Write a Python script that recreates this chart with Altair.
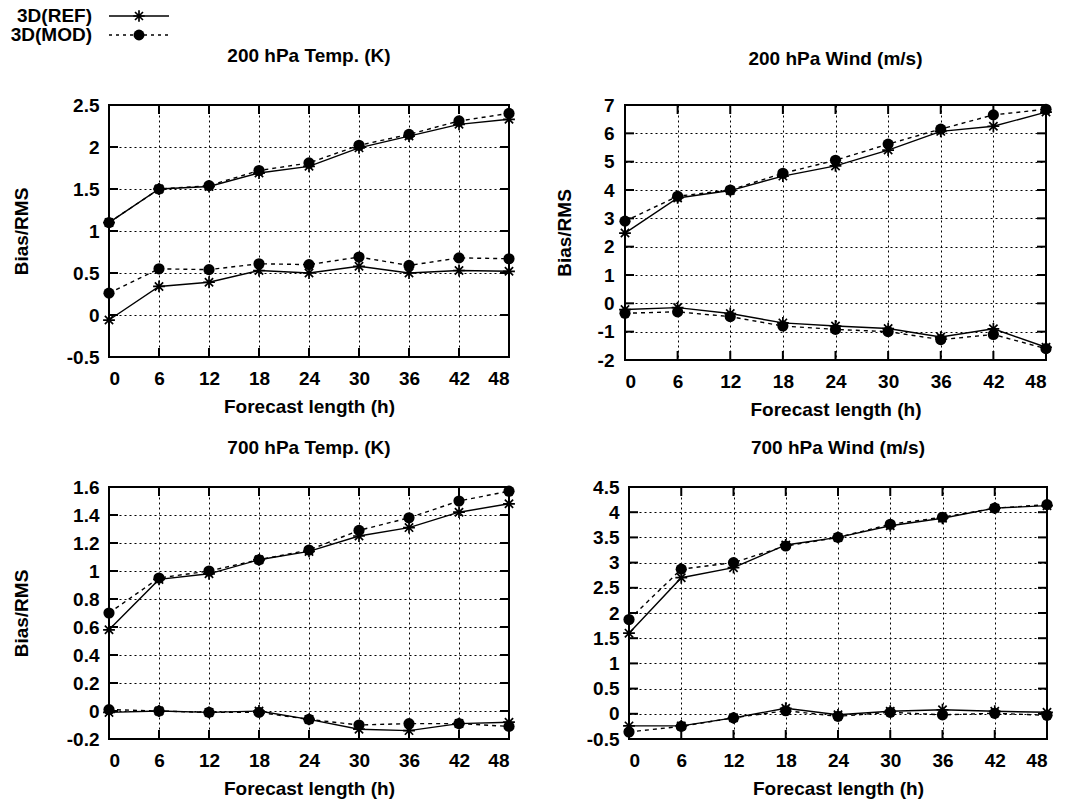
import altair as alt
import pandas as pd

hours = [0, 6, 12, 18, 24, 30, 36, 42, 48]
series_names = ["3D(REF)", "3D(MOD)"]

# 200 hPa Temp. (K)
t200_ref_rms = [1.10, 1.50, 1.53, 1.69, 1.77, 1.99, 2.13, 2.27, 2.33]
t200_mod_rms = [1.10, 1.50, 1.54, 1.72, 1.81, 2.02, 2.15, 2.31, 2.40]
t200_ref_bias = [-0.06, 0.34, 0.39, 0.53, 0.50, 0.58, 0.50, 0.53, 0.52]
t200_mod_bias = [0.26, 0.55, 0.54, 0.61, 0.60, 0.69, 0.59, 0.68, 0.67]
t200_yticks = [-0.5, 0, 0.5, 1, 1.5, 2, 2.5]

# 200 hPa Wind (m/s)
w200_ref_rms = [2.48, 3.72, 3.98, 4.49, 4.85, 5.41, 6.07, 6.25, 6.75]
w200_mod_rms = [2.90, 3.78, 4.00, 4.59, 5.05, 5.62, 6.15, 6.65, 6.85]
w200_ref_bias = [-0.22, -0.15, -0.36, -0.69, -0.80, -0.89, -1.19, -0.90, -1.55]
w200_mod_bias = [-0.35, -0.30, -0.47, -0.80, -0.92, -1.00, -1.28, -1.10, -1.60]
w200_yticks = [-2, -1, 0, 1, 2, 3, 4, 5, 6, 7]

# 700 hPa Temp. (K)
t700_ref_rms = [0.58, 0.94, 0.98, 1.08, 1.14, 1.25, 1.31, 1.42, 1.48]
t700_mod_rms = [0.70, 0.95, 1.00, 1.08, 1.15, 1.29, 1.38, 1.50, 1.57]
t700_ref_bias = [-0.01, 0.00, -0.01, 0.00, -0.06, -0.13, -0.14, -0.09, -0.08]
t700_mod_bias = [0.01, 0.00, -0.01, -0.01, -0.06, -0.10, -0.09, -0.09, -0.11]
t700_yticks = [-0.2, 0, 0.2, 0.4, 0.6, 0.8, 1, 1.2, 1.4, 1.6]

# 700 hPa Wind (m/s)
w700_ref_rms = [1.60, 2.70, 2.90, 3.35, 3.50, 3.73, 3.88, 4.08, 4.13]
w700_mod_rms = [1.87, 2.87, 3.00, 3.33, 3.50, 3.76, 3.90, 4.08, 4.15]
w700_ref_bias = [-0.24, -0.24, -0.08, 0.11, -0.02, 0.05, 0.08, 0.05, 0.03]
w700_mod_bias = [-0.36, -0.25, -0.08, 0.06, -0.05, 0.03, -0.02, 0.01, -0.03]
w700_yticks = [-0.5, 0, 0.5, 1, 1.5, 2, 2.5, 3, 3.5, 4, 4.5]

STAR = "M-1,0L1,0M0,-1L0,1M-0.7,-0.7L0.7,0.7M-0.7,0.7L0.7,-0.7"
FONT = "Liberation Sans"
FS = 19
TICK = 9


def build_df(ref_rms, mod_rms, ref_bias, mod_bias):
    rows = []
    for name, metric, vals in [
        (series_names[0], "rms", ref_rms),
        (series_names[1], "rms", mod_rms),
        (series_names[0], "bias", ref_bias),
        (series_names[1], "bias", mod_bias),
    ]:
        for h, v in zip(hours, vals):
            rows.append({"hour": h, "value": v, "series": name, "metric": metric})
    return pd.DataFrame(rows)


def panel(title, df, yticks, ytitle, w, h, title_offset, lab_pad, ytitle_pad):
    x = alt.X(
        "hour:Q",
        scale=alt.Scale(domain=[0, 48], nice=False, zero=False),
        axis=alt.Axis(values=hours, title="Forecast length (h)", labelPadding=12,
                      titlePadding=9, labelExpr="'' + datum.value"),
    )
    yaxis_kw = dict(values=yticks, labelPadding=lab_pad, labelExpr="'' + datum.value",
                    titlePadding=ytitle_pad, title=ytitle if ytitle else "")
    y = alt.Y(
        "value:Q",
        scale=alt.Scale(domain=[yticks[0], yticks[-1]], nice=False, zero=False),
        axis=alt.Axis(**yaxis_kw),
    )
    base = alt.Chart(df)
    ref = base.transform_filter(alt.datum.series == series_names[0])
    mod = base.transform_filter(alt.datum.series == series_names[1])
    ref_line = ref.mark_line(color="black", strokeWidth=1.4).encode(x=x, y=y, detail="metric:N")
    mod_line = mod.mark_line(color="black", strokeWidth=1.4, strokeDash=[4, 4]).encode(
        x=x, y=y, detail="metric:N")
    ref_pts = ref.mark_point(shape=STAR, filled=False, stroke="black", strokeWidth=1.7,
                             size=140, opacity=1).encode(x=x, y=y)
    mod_pts = mod.mark_point(shape="circle", filled=True, color="black", size=125,
                             opacity=1).encode(x=x, y=y)

    xt = alt.Chart(pd.DataFrame({"hour": hours}))
    yt = alt.Chart(pd.DataFrame({"value": yticks}))
    tick_top = xt.mark_rule(color="black", strokeWidth=2).encode(
        x=x, y=alt.value(0), y2=alt.value(TICK))
    tick_bot = xt.mark_rule(color="black", strokeWidth=2).encode(
        x=x, y=alt.value(h), y2=alt.value(h - TICK))
    tick_left = yt.mark_rule(color="black", strokeWidth=2).encode(
        y=y, x=alt.value(0), x2=alt.value(TICK))
    tick_right = yt.mark_rule(color="black", strokeWidth=2).encode(
        y=y, x=alt.value(w), x2=alt.value(w - TICK))

    return alt.layer(
        tick_top, tick_bot, tick_left, tick_right,
        mod_line, ref_line, ref_pts, mod_pts,
    ).properties(
        width=w, height=h,
        title=alt.TitleParams(title, fontSize=FS, font=FONT, fontWeight="bold",
                              color="black", offset=title_offset),
    )


p1 = panel("200 hPa Temp. (K)", build_df(t200_ref_rms, t200_mod_rms, t200_ref_bias, t200_mod_bias),
           t200_yticks, "Bias/RMS", 400, 252, 30, 10, 35)
p2 = panel("200 hPa Wind (m/s)", build_df(w200_ref_rms, w200_mod_rms, w200_ref_bias, w200_mod_bias),
           w200_yticks, "Bias/RMS", 421, 255, 27, 11, 23)
p3 = panel("700 hPa Temp. (K)", build_df(t700_ref_rms, t700_mod_rms, t700_ref_bias, t700_mod_bias),
           t700_yticks, "Bias/RMS", 400, 252, 20, 10, 35)
p4 = panel("700 hPa Wind (m/s)", build_df(w700_ref_rms, w700_mod_rms, w700_ref_bias, w700_mod_bias),
           w700_yticks, None, 418, 252, 20, 10, 10)

# legend drawn as its own small chart, aligned to the first panel's origin
leg = alt.Chart(pd.DataFrame({"series": series_names}))
leg_layers = []
for name, yy, dash, shape, filled in [
    (series_names[0], 15, [1, 0], STAR, False),
    (series_names[1], 34, [3, 4], "circle", True),
]:
    sub = leg.transform_filter(alt.datum.series == name)
    leg_layers.append(sub.mark_text(align="right", baseline="middle", font=FONT,
                                    fontWeight="bold", fontSize=FS, color="black").encode(
        x=alt.value(-17), y=alt.value(yy), text="series:N"))
    leg_layers.append(sub.mark_rule(color="black", strokeWidth=1.4, strokeDash=dash).encode(
        x=alt.value(0), x2=alt.value(60), y=alt.value(yy)))
    if filled:
        leg_layers.append(sub.mark_point(shape=shape, filled=True, color="black", size=120,
                                         opacity=1).encode(x=alt.value(30), y=alt.value(yy)))
    else:
        leg_layers.append(sub.mark_point(shape=shape, filled=False, stroke="black",
                                         strokeWidth=1.7, size=130, opacity=1).encode(
            x=alt.value(30), y=alt.value(yy)))
legend = alt.layer(*leg_layers).properties(
    width=170, height=40, view=alt.ViewBackground(stroke="transparent"))

row1 = alt.hconcat(p1, p2, spacing=34)
row2 = alt.hconcat(p3, p4, spacing=65)
body = alt.vconcat(row1, row2, spacing=18)

chart = alt.vconcat(legend, body, spacing=0).properties(
    padding={"left": 9, "top": 0, "right": 4, "bottom": 2},
    background="white",
).configure_view(
    stroke="black", strokeWidth=2
).configure_axis(
    labelFont=FONT, labelFontWeight="bold", labelFontSize=FS, labelColor="black",
    titleFont=FONT, titleFontWeight="bold", titleFontSize=FS, titleColor="black",
    grid=True, gridColor="black", gridDash=[2, 3], gridOpacity=1, gridWidth=1,
    ticks=False, domain=False,
)

chart.save("out.html", embed_options={"renderer": "svg", "actions": False})
